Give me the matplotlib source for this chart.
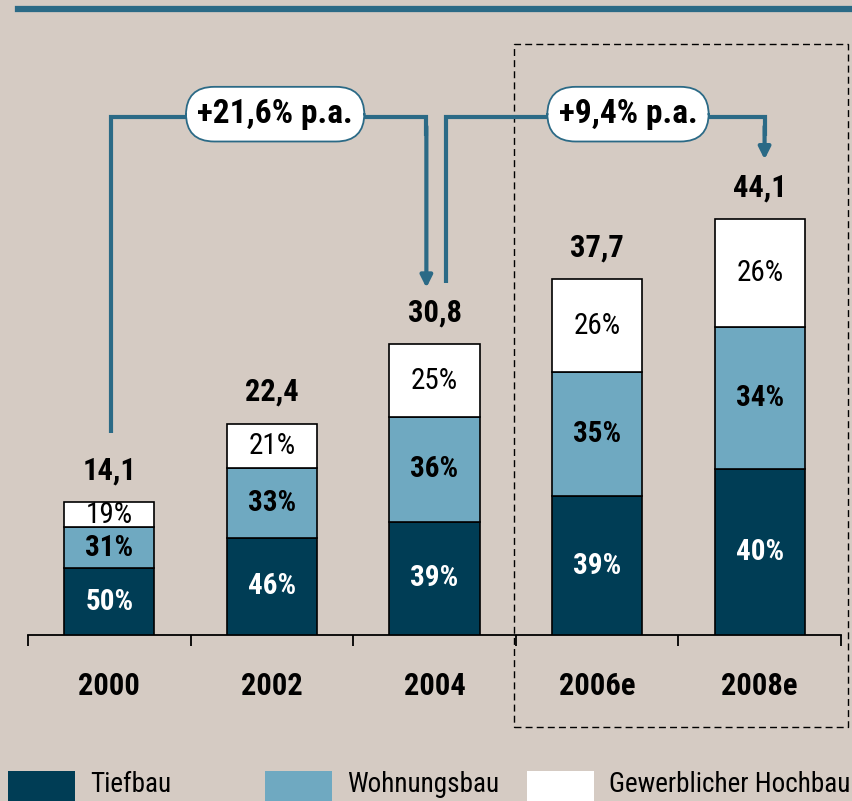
import matplotlib
matplotlib.use("Agg")
import matplotlib.pyplot as plt
from matplotlib import font_manager
from matplotlib.patches import Rectangle
from matplotlib.lines import Line2D

years = ["2000", "2002", "2004", "2006e", "2008e"]
totals = [14.1, 22.4, 30.8, 37.7, 44.1]
tiefbau = [50, 46, 39, 39, 40]
wohnungsbau = [31, 33, 36, 35, 34]
gewerbe = [19, 21, 25, 26, 26]
series_names = ["Tiefbau", "Wohnungsbau", "Gewerblicher Hochbau"]
growth_labels = ["+21,6% p.a.", "+9,4% p.a."]

bg = "#d5cbc3"
colors = ["#003d55", "#6fa9c1", "#ffffff"]
blue = "#2b6a86"


def bold_ok(name):
    for f in font_manager.fontManager.ttflist:
        if f.name == name and f.style == "normal":
            wt = f.weight if isinstance(f.weight, int) else 400
            if wt >= 700:
                return True
    return False


candidates = ["Arial Narrow", "Liberation Sans Narrow", "Roboto Condensed",
              "PT Sans Narrow", "Archivo Narrow", "Asap Condensed"]
font = next((c for c in candidates if bold_ok(c)), "Liberation Sans")
plt.rcParams["font.family"] = [font, "Liberation Sans", "DejaVu Sans"]

fig = plt.figure(figsize=(8.52, 8.01), dpi=100, facecolor=bg)
# x axis from px 28 to 841, baseline at px 635
ax = fig.add_axes([28 / 852, (801 - 635) / 801, 813 / 852, 635 / 801])
ax.patch.set_alpha(0)
ax.set_xlim(-0.5, 4.5)
ax.set_ylim(0, 67.3)
for s in ["top", "left", "right"]:
    ax.spines[s].set_visible(False)
ax.spines["bottom"].set_linewidth(1.3)
ax.set_yticks([])
ax.set_xticks([i - 0.5 for i in range(len(years) + 1)])
ax.set_xticklabels([])
ax.tick_params(axis="x", length=8, width=1.3, direction="out")

x = list(range(len(years)))
w = 0.555
bottoms = [0] * len(years)
shares = [tiefbau, wohnungsbau, gewerbe]
for k, share in enumerate(shares):
    heights = [t * p / 100 for t, p in zip(totals, share)]
    ax.bar(x, heights, w, bottom=bottoms, color=colors[k], edgecolor="black",
           linewidth=1.2, zorder=3)
    for i in x:
        yc = bottoms[i] + heights[i] / 2
        txt_color = "white" if k == 0 else "black"
        weight = "normal" if k == 2 else "bold"
        ax.text(i, yc, f"{share[i]}%", ha="center", va="center", color=txt_color,
                fontsize=21, fontweight=weight, zorder=4)
    bottoms = [b + h for b, h in zip(bottoms, heights)]

for i in x:
    ax.annotate(f"{totals[i]:.1f}".replace(".", ","), (i, totals[i]),
                xytext=(0, 12), textcoords="offset points", ha="center",
                va="bottom", fontsize=22, fontweight="bold")
    ax.text(i, -5.4, years[i], ha="center", va="center", fontsize=22,
            fontweight="bold")

# growth arrows
top_y = 54.9
starts = [(0.01, totals[0] + 7.3), (2.07, totals[2] + 6.5)]
ends = [(1.95, totals[2] + 6.0), (4.03, totals[4] + 6.3)]
pill_x = [1.02, 3.19]
for (x0, y0), (x1, y1), lab, px in zip(starts, ends, growth_labels, pill_x):
    ax.plot([x0, x0, x1, x1], [y0, top_y, top_y, top_y - 2], color=blue, lw=3,
            solid_joinstyle="miter", solid_capstyle="butt", clip_on=False, zorder=2)
    ax.annotate("", xy=(x1, y1), xytext=(x1, top_y - 1),
                arrowprops=dict(arrowstyle="-|>,head_length=0.7,head_width=0.35",
                                color=blue, lw=3, shrinkA=0, shrinkB=0),
                annotation_clip=False, zorder=2)
    ax.text(px, 55.2, lab, ha="center", va="center", fontsize=24,
            fontweight="bold", zorder=5,
            bbox=dict(boxstyle="round,pad=0.34,rounding_size=0.85", fc="white",
                      ec=blue, lw=1.3))

# forecast box
ax.add_patch(Rectangle((2.49, -9.76), 2.05, 72.4, fill=False, ec="black",
                       lw=1.0, ls=(0, (5, 3)), clip_on=False, zorder=1))

# top rule
fig.add_artist(Line2D([18 / 852, 1], [1 - 9 / 801] * 2, color=blue, lw=4.5,
                      transform=fig.transFigure))

# legend
leg_x = [8, 265, 527]
for name, c, lx in zip(series_names, colors, leg_x):
    fig.add_artist(Rectangle((lx / 852, -0.01), 67 / 852, 38 / 801,
                             transform=fig.transFigure, fc=c, ec="none"))
    fig.text((lx + 82) / 852, 1 - 785 / 801, name, ha="left", va="center",
             fontsize=19.5)

fig.savefig("out.png", dpi=100, facecolor=bg)
